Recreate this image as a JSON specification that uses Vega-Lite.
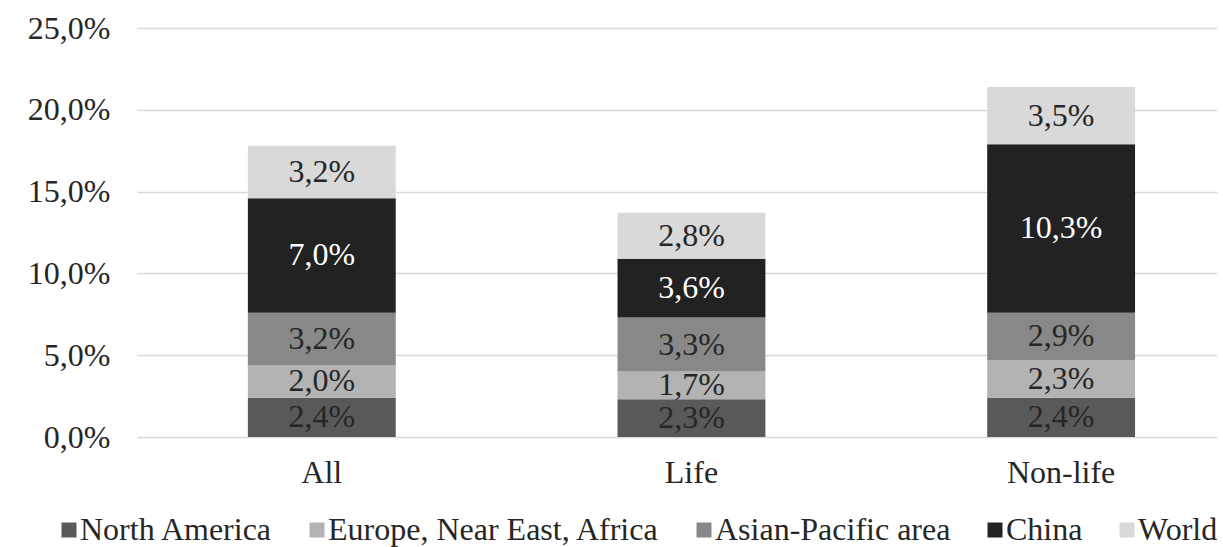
{
  "$schema": "https://vega.github.io/schema/vega-lite/v6.json",
  "width": 1080,
  "height": 409,
  "autosize": {"type": "none"},
  "padding": {"left": 137, "top": 28, "right": 6, "bottom": 110},
  "background": "white",
  "data": {
    "values": [
      {"cat": "All", "region": "North America", "v": 0.024},
      {"cat": "All", "region": "Europe, Near East, Africa", "v": 0.020},
      {"cat": "All", "region": "Asian-Pacific area", "v": 0.032},
      {"cat": "All", "region": "China", "v": 0.070},
      {"cat": "All", "region": "World", "v": 0.032},
      {"cat": "Life", "region": "North America", "v": 0.023},
      {"cat": "Life", "region": "Europe, Near East, Africa", "v": 0.017},
      {"cat": "Life", "region": "Asian-Pacific area", "v": 0.033},
      {"cat": "Life", "region": "China", "v": 0.036},
      {"cat": "Life", "region": "World", "v": 0.028},
      {"cat": "Non-life", "region": "North America", "v": 0.024},
      {"cat": "Non-life", "region": "Europe, Near East, Africa", "v": 0.023},
      {"cat": "Non-life", "region": "Asian-Pacific area", "v": 0.029},
      {"cat": "Non-life", "region": "China", "v": 0.103},
      {"cat": "Non-life", "region": "World", "v": 0.035}
    ]
  },
  "transform": [
    {"calculate": "indexof(['North America','Europe, Near East, Africa','Asian-Pacific area','China','World'], datum.region)", "as": "k"},
    {"stack": "v", "groupby": ["cat"], "sort": [{"field": "k", "order": "ascending"}], "as": ["v0", "v1"]},
    {"calculate": "(datum.v0 + datum.v1) / 2", "as": "mid"}
  ],
  "encoding": {
    "x": {
      "field": "cat",
      "type": "nominal",
      "sort": ["All", "Life", "Non-life"],
      "scale": {"paddingInner": 0.6, "paddingOuter": 0.2608, "align": 0.575},
      "axis": {
        "title": null,
        "labelAngle": 0,
        "ticks": false,
        "domain": false,
        "labelPadding": 20,
        "labelFont": "Liberation Serif",
        "labelFontSize": 32,
        "labelColor": "#262626"
      }
    }
  },
  "layer": [
    {
      "mark": {"type": "bar"},
      "encoding": {
        "y": {
          "field": "v0",
          "type": "quantitative",
          "scale": {"domain": [0, 0.25], "nice": false},
          "axis": {
            "title": null,
            "values": [0, 0.05, 0.1, 0.15, 0.2, 0.25],
            "format": ".1%",
            "ticks": false,
            "domain": false,
            "grid": true,
            "gridColor": "#d9d9d9",
            "gridWidth": 1.5,
            "labelPadding": 27,
            "labelFont": "Liberation Serif",
            "labelFontSize": 32,
            "labelColor": "#262626"
          }
        },
        "y2": {"field": "v1"},
        "color": {
          "field": "region",
          "type": "nominal",
          "sort": ["North America", "Europe, Near East, Africa", "Asian-Pacific area", "China", "World"],
          "scale": {
            "domain": ["North America", "Europe, Near East, Africa", "Asian-Pacific area", "China", "World"],
            "range": ["#595959", "#b3b3b3", "#888888", "#222222", "#d9d9d9"]
          },
          "legend": {
            "title": null,
            "orient": "none",
            "legendX": -84,
            "legendY": 486,
            "direction": "horizontal",
            "columns": 5,
            "symbolType": "square",
            "symbolSize": 225,
            "symbolStrokeWidth": 0,
            "labelOffset": -5,
            "columnPadding": 28,
            "padding": 0,
            "labelFont": "Liberation Serif",
            "labelFontSize": 32,
            "labelColor": "#262626",
            "labelLimit": 0
          }
        }
      }
    },
    {
      "mark": {"type": "text", "font": "Liberation Serif", "fontSize": 32, "baseline": "middle", "align": "center"},
      "encoding": {
        "y": {"field": "mid", "type": "quantitative"},
        "text": {"field": "v", "type": "quantitative", "format": ".1%"},
        "color": {
          "condition": {"test": "datum.region === 'China'", "value": "#ffffff"},
          "value": "#262626"
        }
      }
    }
  ],
  "config": {
    "locale": {
      "number": {"decimal": ",", "thousands": ".", "grouping": [3], "currency": ["", " €"]}
    },
    "view": {"stroke": null}
  }
}
